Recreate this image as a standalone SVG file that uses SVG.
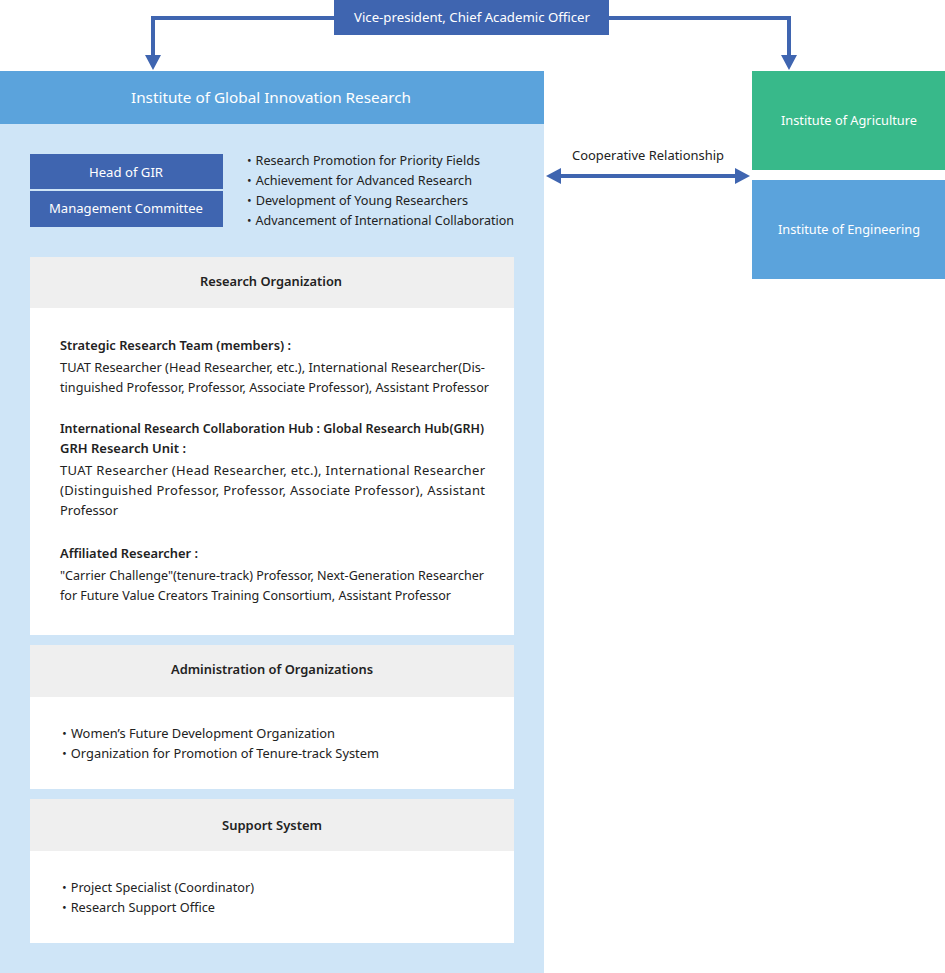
<svg xmlns="http://www.w3.org/2000/svg" width="945" height="973" viewBox="0 0 945 973">
<style>
text{font-family:"Noto Sans","Open Sans","Noto Sans CJK JP",sans-serif;font-size:13px;fill:#222}
.w{fill:#fff}
.c{text-anchor:middle}
.b{font-weight:600}
.dk{fill:#3f65b0}
.hd{fill:#efefef}
.bd{fill:#fff}
.con{fill:none;stroke:#3f65b0;stroke-width:4}
</style>
<defs>
<marker id="ah" markerUnits="userSpaceOnUse" markerWidth="16" markerHeight="16" refX="1" refY="8" orient="auto-start-reverse" viewBox="0 0 16 16">
<path d="M0,0 L15,8 L0,16 z" fill="#3f65b0"/>
</marker>
</defs>
<rect width="945" height="973" fill="#fff"/>

<g id="gir">
<rect x="0" y="71" width="544" height="902" fill="#cfe5f7"/>
<rect x="0" y="71" width="544" height="53" fill="#5ba3dc"/>
<text class="w c" x="271" y="103" style="font-size:15px" textLength="280" lengthAdjust="spacingAndGlyphs">Institute of Global Innovation Research</text>
</g>

<g id="vp">
<rect x="334" y="0" width="275" height="35" class="dk"/>
<text class="w c" x="472" y="22" textLength="236" lengthAdjust="spacingAndGlyphs">Vice-president, Chief Academic Officer</text>
</g>

<g id="agri">
<rect x="752" y="71" width="193" height="99" fill="#38b98a"/>
<text class="w c" x="849" y="125" textLength="136" lengthAdjust="spacingAndGlyphs">Institute of Agriculture</text>
</g>

<g id="eng">
<rect x="752" y="180" width="193" height="99" fill="#5ba3dc"/>
<text class="w c" x="849" y="234" textLength="142" lengthAdjust="spacingAndGlyphs">Institute of Engineering</text>
</g>

<g id="head">
<rect x="30" y="154" width="193" height="35" class="dk"/>
<text class="w c" x="126" y="177" textLength="74" lengthAdjust="spacingAndGlyphs">Head of GIR</text>
</g>
<g id="mgmt">
<rect x="30" y="191" width="193" height="36" class="dk"/>
<text class="w c" x="126" y="213" textLength="154" lengthAdjust="spacingAndGlyphs">Management Committee</text>
</g>

<g id="missions">
<text x="243" y="165" textLength="237" lengthAdjust="spacingAndGlyphs">・Research Promotion for Priority Fields</text>
<text x="243" y="185" textLength="229" lengthAdjust="spacingAndGlyphs">・Achievement for Advanced Research</text>
<text x="243" y="205" textLength="225" lengthAdjust="spacingAndGlyphs">・Development of Young Researchers</text>
<text x="243" y="225" textLength="271" lengthAdjust="spacingAndGlyphs">・Advancement of International Collaboration</text>
</g>

<g id="research-org">
<rect x="30" y="257" width="484" height="51" class="hd"/>
<rect x="30" y="308" width="484" height="327" class="bd"/>
<text class="c b" x="271" y="286" textLength="142" lengthAdjust="spacingAndGlyphs">Research Organization</text>
<text class="b" x="60" y="350" textLength="231" lengthAdjust="spacingAndGlyphs">Strategic Research Team (members) :</text>
<text x="60" y="372" textLength="425" lengthAdjust="spacingAndGlyphs">TUAT Researcher (Head Researcher, etc.), International Researcher(Dis-</text>
<text x="60" y="392" textLength="429" lengthAdjust="spacingAndGlyphs">tinguished Professor, Professor, Associate Professor), Assistant Professor</text>
<text class="b" x="60" y="433" textLength="424" lengthAdjust="spacingAndGlyphs">International Research Collaboration Hub : Global Research Hub(GRH)</text>
<text class="b" x="60" y="453" textLength="126" lengthAdjust="spacingAndGlyphs">GRH Research Unit :</text>
<text x="60" y="475" textLength="425" lengthAdjust="spacing">TUAT Researcher (Head Researcher, etc.), International Researcher</text>
<text x="60" y="495" textLength="425" lengthAdjust="spacing">(Distinguished Professor, Professor, Associate Professor), Assistant</text>
<text x="60" y="515" textLength="58" lengthAdjust="spacingAndGlyphs">Professor</text>
<text class="b" x="60" y="558" textLength="138" lengthAdjust="spacingAndGlyphs">Affiliated Researcher :</text>
<text x="60" y="580" textLength="424" lengthAdjust="spacingAndGlyphs">"Carrier Challenge"(tenure-track) Professor, Next-Generation Researcher</text>
<text x="60" y="600" textLength="391" lengthAdjust="spacingAndGlyphs">for Future Value Creators Training Consortium, Assistant Professor</text>
</g>

<g id="admin">
<rect x="30" y="645" width="484" height="52" class="hd"/>
<rect x="30" y="697" width="484" height="92" class="bd"/>
<text class="c b" x="272" y="674" textLength="202" lengthAdjust="spacingAndGlyphs">Administration of Organizations</text>
<text x="58" y="738" textLength="277" lengthAdjust="spacingAndGlyphs">・Women’s Future Development Organization</text>
<text x="58" y="758" textLength="321" lengthAdjust="spacingAndGlyphs">・Organization for Promotion of Tenure-track System</text>
</g>

<g id="support">
<rect x="30" y="799" width="484" height="52" class="hd"/>
<rect x="30" y="851" width="484" height="92" class="bd"/>
<text class="c b" x="272" y="830" textLength="100" lengthAdjust="spacingAndGlyphs">Support System</text>
<text x="58" y="892" textLength="196" lengthAdjust="spacingAndGlyphs">・Project Specialist (Coordinator)</text>
<text x="58" y="912" textLength="157" lengthAdjust="spacingAndGlyphs">・Research Support Office</text>
</g>

<g id="connectors">
<path class="con" d="M334,18 H153 V56" marker-end="url(#ah)"/>
<path class="con" d="M609,18 H789 V56" marker-end="url(#ah)"/>
<path class="con" d="M560,176 H736" marker-start="url(#ah)" marker-end="url(#ah)"/>
<text class="c" x="648" y="160" textLength="152" lengthAdjust="spacingAndGlyphs">Cooperative Relationship</text>
</g>
</svg>
